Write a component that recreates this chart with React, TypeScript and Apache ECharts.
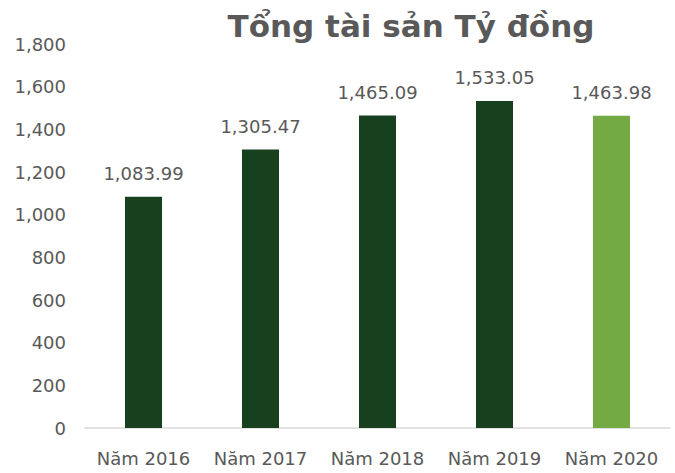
import React, { useEffect, useRef } from "react";
import * as echarts from "echarts";

const categories = ["Năm 2016", "Năm 2017", "Năm 2018", "Năm 2019", "Năm 2020"];
const values = [1083.99, 1305.47, 1465.09, 1533.05, 1463.98];
const barColors = ["#17401F", "#17401F", "#17401F", "#17401F", "#74AA43"];
const titleText = "Tổng tài sản Tỷ đồng";

export default function App() {
  const ref = useRef<HTMLDivElement>(null);
  useEffect(() => {
    if (!ref.current) return;
    const chart = echarts.init(ref.current, undefined, { renderer: "svg" });
    const font = "'DejaVu Sans', sans-serif";
    chart.setOption({
      animation: false,
      title: {
        text: titleText,
        left: 406,
        textAlign: "center",
        top: 5,
        textStyle: { fontFamily: font, fontSize: 31, fontWeight: "bold", color: "#595959" },
      },
      grid: { left: 85, right: 5, top: 44, bottom: 45 },
      xAxis: {
        type: "category",
        data: categories,
        axisLine: { show: true, lineStyle: { color: "#D9D9D9", width: 1.5 } },
        axisTick: { show: false },
        axisLabel: { fontFamily: font, fontSize: 18, color: "#595959", margin: 21, interval: 0 },
      },
      yAxis: {
        type: "value",
        min: 0,
        max: 1800,
        interval: 200,
        splitLine: { show: false },
        axisLine: { show: false },
        axisTick: { show: false },
        axisLabel: {
          fontFamily: font,
          fontSize: 18,
          color: "#595959",
          margin: 19,
          formatter: (v: number) => v.toLocaleString("en-US"),
        },
      },
      series: [
        {
          type: "bar",
          barWidth: 37,
          data: values.map((v, i) => ({ value: v, itemStyle: { color: barColors[i] } })),
          label: {
            show: true,
            position: "top",
            distance: 14,
            fontFamily: font,
            fontSize: 18,
            color: "#595959",
            formatter: (p: any) =>
              p.value.toLocaleString("en-US", { minimumFractionDigits: 2, maximumFractionDigits: 2 }),
          },
        },
      ],
    });
    return () => chart.dispose();
  }, []);
  return <div ref={ref} style={{ width: 675, height: 473, position: "absolute", left: 0, top: 0 }} />;
}
